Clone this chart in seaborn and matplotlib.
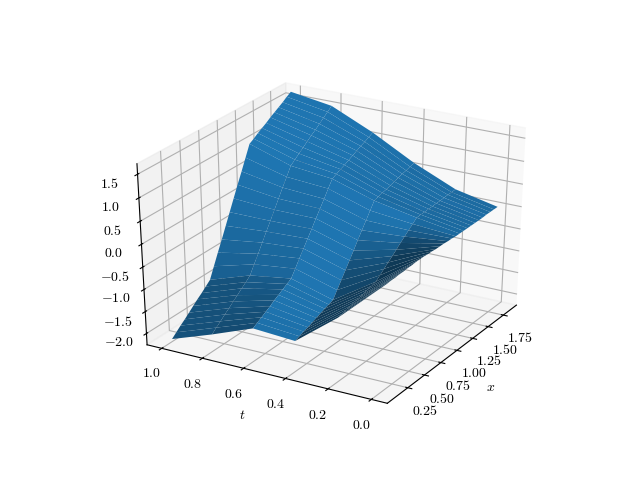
import numpy as np
import matplotlib
matplotlib.use("Agg")
import matplotlib.pyplot as plt
import seaborn as sns

plt.rcParams["font.family"] = "serif"
plt.rcParams["font.serif"] = ["cmr10"]
plt.rcParams["mathtext.fontset"] = "cm"
plt.rcParams["axes.formatter.use_mathtext"] = True
plt.rcParams["axes.unicode_minus"] = True

x = [0.09, 0.15, 0.21, 0.27, 0.33, 0.39, 0.45, 0.51, 0.57, 0.63,
     0.69, 0.75, 0.81, 0.87, 0.93, 0.99, 1.05, 1.11, 1.17, 1.23,
     1.29, 1.35, 1.41, 1.47, 1.53, 1.59, 1.65, 1.71, 1.77, 1.83]
t = [0.0, 0.2, 0.4, 0.6, 0.8, 1.0]
x_ticks = [0.25, 0.50, 0.75, 1.00, 1.25, 1.50, 1.75]

# one list per time step
u_t00 = [0.05, 0.05, 0.06, 0.06, 0.07, 0.07, 0.08, 0.08, 0.09, 0.09,
         0.09, 0.08, 0.08, 0.07, 0.07, 0.07, 0.06, 0.06, 0.05, 0.05,
         0.05, 0.05, 0.05, 0.05, 0.05, 0.05, 0.06, 0.06, 0.06, 0.06]
u_t02 = [-0.83, -0.81, -0.78, -0.76, -0.73, -0.71, -0.69, -0.66, -0.64, -0.61,
         -0.53, -0.45, -0.37, -0.29, -0.21, -0.12, -0.04, 0.04, 0.12, 0.20,
         0.21, 0.21, 0.22, 0.22, 0.23, 0.23, 0.24, 0.25, 0.25, 0.26]
u_t04 = [-1.57, -1.53, -1.49, -1.46, -1.42, -1.38, -1.34, -1.30, -1.27, -1.23,
         -1.07, -0.91, -0.75, -0.59, -0.43, -0.26, -0.10, 0.06, 0.22, 0.38,
         0.41, 0.44, 0.46, 0.49, 0.52, 0.55, 0.58, 0.60, 0.63, 0.66]
u_t06 = [-1.51, -1.45, -1.39, -1.33, -1.27, -1.20, -1.14, -1.08, -1.02, -0.96,
         -0.80, -0.63, -0.47, -0.31, -0.15, 0.02, 0.18, 0.34, 0.51, 0.67,
         0.72, 0.77, 0.81, 0.86, 0.91, 0.96, 1.01, 1.05, 1.10, 1.15]
u_t08 = [-1.87, -1.78, -1.70, -1.61, -1.53, -1.44, -1.36, -1.27, -1.19, -1.10,
         -0.91, -0.73, -0.54, -0.35, -0.17, 0.02, 0.21, 0.40, 0.58, 0.77,
         0.85, 0.93, 1.01, 1.09, 1.17, 1.24, 1.32, 1.40, 1.48, 1.56]
u_t10 = [-2.20, -2.11, -2.02, -1.94, -1.85, -1.76, -1.67, -1.59, -1.50, -1.41,
         -1.16, -0.91, -0.67, -0.42, -0.17, 0.08, 0.33, 0.57, 0.82, 1.07,
         1.13, 1.20, 1.26, 1.32, 1.39, 1.45, 1.51, 1.57, 1.64, 1.70]

X, T = np.meshgrid(x, t)
U = np.array([u_t00, u_t02, u_t04, u_t06, u_t08, u_t10])

blue = sns.color_palette("tab10")[0]

fig = plt.figure(figsize=(6.4, 4.8))
ax = fig.add_subplot(projection="3d")
ax.plot_surface(X, T, U, color=blue, rstride=1, cstride=1)
ax.view_init(elev=30, azim=-150)
ax.set_xlim(-0.05, 1.97)
ax.set_ylim(-0.073, 1.073)
ax.set_zlim(-2.26, 1.72)
ax.set_xticks(x_ticks)
ax.set_xlabel("$x$")
ax.set_ylabel("$t$")

# unit cube stretched over the whole subplot, not kept square
ax.set_box_aspect((1, 1, 1), zoom=0.94)
ax.apply_aspect = lambda position=None: None

fig.savefig("out.png", dpi=100)
